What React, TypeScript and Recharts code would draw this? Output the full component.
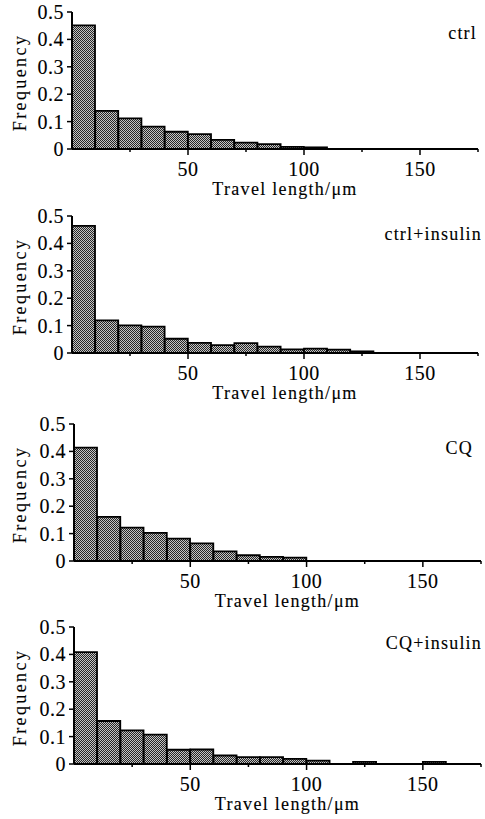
import React from 'react';
import { BarChart, Bar, XAxis, YAxis } from 'recharts';

// Histogram bins (bin centres, µm); each bin is 10 µm wide
const binCenters = [5, 15, 25, 35, 45, 55, 65, 75, 85, 95, 105, 115, 125, 135, 145, 155, 165];

// Frequencies per bin for each condition
const ctrlFreq = [0.451, 0.139, 0.112, 0.082, 0.063, 0.054, 0.033, 0.023, 0.018, 0.008, 0.006, 0, 0, 0, 0, 0, 0];
const ctrlInsulinFreq = [0.464, 0.119, 0.101, 0.096, 0.052, 0.037, 0.029, 0.036, 0.023, 0.013, 0.016, 0.012, 0.006, 0, 0, 0, 0];
const cqFreq = [0.414, 0.161, 0.122, 0.103, 0.082, 0.064, 0.035, 0.021, 0.015, 0.012, 0, 0, 0, 0, 0, 0, 0];
const cqInsulinFreq = [0.408, 0.157, 0.123, 0.107, 0.052, 0.053, 0.031, 0.025, 0.025, 0.019, 0.012, 0, 0.008, 0, 0, 0.008, 0];

const panelNames = ['ctrl', 'ctrl+insulin', 'CQ', 'CQ+insulin'];
const panelSeries = [ctrlFreq, ctrlInsulinFreq, cqFreq, cqInsulinFreq];

const freqTicks = [0, 0.1, 0.2, 0.3, 0.4, 0.5];
const lengthTicks = [25, 50, 75, 100, 125, 150, 175];
const labelledLengths = [50, 100, 150];
const xAxisTitle = 'Travel length/\u03bcm';
const yAxisTitle = 'Frequency';

// layout (not data)
const panelLayout = [
  { top: 0, yAxisWidth: 72, right: 7, nameRight: 8, nameTop: 24 },
  { top: 204, yAxisWidth: 72, right: 7, nameRight: 3, nameTop: 21 },
  { top: 412, yAxisWidth: 74, right: 4, nameRight: 12, nameTop: 27 },
  { top: 615, yAxisWidth: 74, right: 4, nameRight: 3, nameTop: 19 },
];

const FONT = '"Liberation Serif", "Times New Roman", Times, serif';
const FS = 18;
const TICK_FS = 20;
const TEXT_STROKE = 0.12;

function XTick(props: any) {
  const { x, y, payload } = props;
  const major = labelledLengths.includes(payload.value);
  return (
    <g>
      <line x1={x} x2={x} y1={y} y2={y + (major ? 6 : 3)} stroke="#000" strokeWidth={1.5} />
      {major && (
        <text x={x} y={y + 27} textAnchor="middle" fontFamily={FONT} fontSize={TICK_FS} fill="#000" stroke="#000" strokeWidth={TEXT_STROKE} letterSpacing={0.5}>
          {payload.value}
        </text>
      )}
    </g>
  );
}

function YTick(props: any) {
  const { x, y, payload } = props;
  const v = payload.value;
  const label = v === 0 ? '0' : v.toFixed(1);
  return (
    <text x={x} y={y + 7} textAnchor="end" fontFamily={FONT} fontSize={TICK_FS} fill="#000" stroke="#000" strokeWidth={TEXT_STROKE} letterSpacing={0.5}>
      {label}
    </text>
  );
}

function XTitle(props: any) {
  const vb = props.viewBox || { x: 72, y: 149, width: 404, height: 50 };
  return (
    <text x={vb.x + vb.width / 2 + 10} y={vb.y + 46} textAnchor="middle" fontFamily={FONT} fontSize={FS} fill="#000" stroke="#000" strokeWidth={TEXT_STROKE} letterSpacing={1.3}>
      {xAxisTitle}
    </text>
  );
}

function YTitle(props: any) {
  const vb = props.viewBox || { x: 0, y: 12, width: 72, height: 137 };
  const cx = vb.x + 20;
  const cy = vb.y + vb.height / 2 + 2;
  return (
    <text x={cx} y={cy} transform={`rotate(-90 ${cx} ${cy})`} textAnchor="middle" dominantBaseline="central" fontFamily={FONT} fontSize={FS} fill="#000" stroke="#000" strokeWidth={TEXT_STROKE} letterSpacing={2.4}>
      {yAxisTitle}
    </text>
  );
}

function Panel({ idx }: { idx: number }) {
  const values = panelSeries[idx];
  const lay = panelLayout[idx];
  const data = binCenters.map((c, i) => ({ center: c, freq: values[i] }));
  const pid = `hatch${idx}`;
  return (
    <div style={{ position: 'absolute', left: 0, top: lay.top, width: 485, height: 205 }}>
      <BarChart
        width={485}
        height={205}
        data={data}
        margin={{ top: 12, right: lay.right, bottom: 6, left: 0 }}
        barCategoryGap={0}
        barGap={0}
      >
        <defs>
          <pattern id={pid} patternUnits="userSpaceOnUse" width={2} height={2}>
            <rect x={0} y={0} width={2} height={2} fill="#c4c4c4" />
            <rect x={0} y={0} width={1} height={1} fill="#262626" />
            <rect x={1} y={1} width={1} height={1} fill="#262626" />
          </pattern>
        </defs>
        <XAxis
          dataKey="center"
          type="number"
          domain={[0, 175]}
          ticks={lengthTicks}
          interval={0}
          tick={<XTick />}
          tickLine={false}
          tickSize={0}
          tickMargin={0}
          axisLine={{ stroke: '#000', strokeWidth: 2 }}
          height={50}
          allowDataOverflow
          label={<XTitle />}
        />
        <YAxis
          type="number"
          domain={[0, 0.5]}
          ticks={freqTicks}
          interval={0}
          width={lay.yAxisWidth}
          tick={<YTick />}
          tickLine={{ stroke: '#000', strokeWidth: 1.5 }}
          tickSize={5}
          tickMargin={3}
          axisLine={{ stroke: '#000', strokeWidth: 2 }}
          label={<YTitle />}
        />
        <Bar dataKey="freq" fill={`url(#${pid})`} stroke="#000" strokeWidth={1.8} isAnimationActive={false} />
      </BarChart>
      <div
        style={{
          position: 'absolute',
          right: lay.nameRight,
          top: lay.nameTop,
          fontFamily: FONT,
          fontSize: FS,
          letterSpacing: 1.2,
          lineHeight: 1,
          color: '#000',
          whiteSpace: 'nowrap',
          WebkitTextStroke: `${TEXT_STROKE}px #000`,
        }}
      >
        {panelNames[idx]}
      </div>
    </div>
  );
}

export default function App() {
  return (
    <div style={{ position: 'absolute', left: 0, top: 0, width: 485, height: 819, background: '#fff' }}>
      {panelNames.map((_, i) => (
        <Panel key={i} idx={i} />
      ))}
    </div>
  );
}
